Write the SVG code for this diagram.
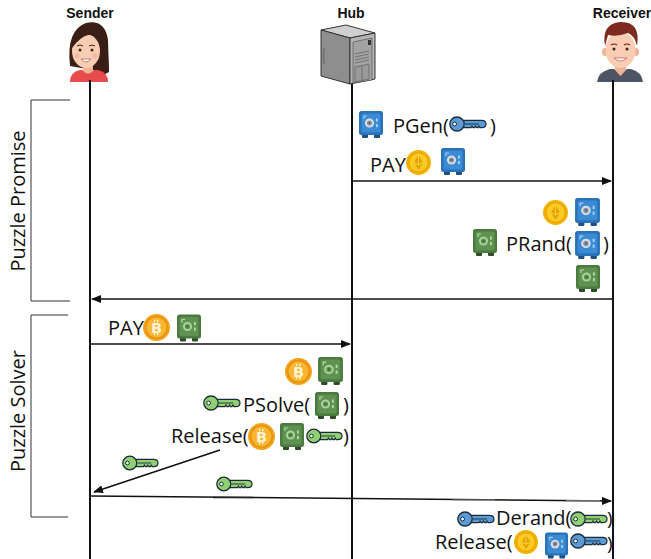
<svg xmlns="http://www.w3.org/2000/svg" xmlns:xlink="http://www.w3.org/1999/xlink" width="651" height="559" viewBox="0 0 651 559">
  <style>
    .title { font-family: "Liberation Sans", Arial, sans-serif; font-weight: bold; font-size: 14px; fill: #111; text-anchor: middle; }
    .lbl { font-family: "Open Sans", "Noto Sans", sans-serif; font-size: 20px; fill: #111; }
    .lbl-s { font-family: "Open Sans", "Noto Sans", sans-serif; font-size: 19px; fill: #111; }
    .phase { font-family: "Open Sans", "Noto Sans", sans-serif; font-size: 20px; fill: #111; text-anchor: middle; }
    .life { stroke: #111; stroke-width: 2; fill: none; }
    .msg { stroke: #111; stroke-width: 1.5; fill: none; marker-end: url(#arrow); }
    .bracket { stroke: #333; stroke-width: 1; fill: none; }
  </style>
  <defs>
    <marker id="arrow" markerUnits="userSpaceOnUse" markerWidth="10" markerHeight="8" refX="9" refY="4" orient="auto">
      <path d="M0,0 L10,4 L0,8 Z" fill="#111"/>
    </marker>
    <!-- lockbox icons -->
    <symbol id="safe-blue" viewBox="0 0 24 27">
      <rect x="3" y="22" width="6" height="5" rx="1" fill="#1f4f80"/>
      <rect x="15" y="22" width="6" height="5" rx="1" fill="#1f4f80"/>
      <rect x="0" y="0" width="24" height="24" rx="2.5" fill="#2a73b8"/>
      <rect x="2.5" y="2.5" width="19" height="19" rx="1.5" fill="#3b8ad4"/>
      <path d="M5,8 V5 H8" stroke="#a6d4f7" stroke-width="1.2" fill="none"/>
      <circle cx="10.5" cy="12" r="4.6" fill="#d9dde2"/>
      <circle cx="10.5" cy="12" r="2.6" fill="#8a949e"/>
      <circle cx="10.5" cy="12" r="1.1" fill="#56606a"/>
      <rect x="17" y="7.5" width="1.8" height="3.2" fill="#a6d4f7"/>
      <rect x="17" y="13" width="1.8" height="3.2" fill="#a6d4f7"/>
    </symbol>
    <symbol id="safe-green" viewBox="0 0 24 27">
      <rect x="3" y="22" width="6" height="5" rx="1" fill="#2e4a28"/>
      <rect x="15" y="22" width="6" height="5" rx="1" fill="#2e4a28"/>
      <rect x="0" y="0" width="24" height="24" rx="2.5" fill="#4a7a40"/>
      <rect x="2.5" y="2.5" width="19" height="19" rx="1.5" fill="#5e9152"/>
      <path d="M5,8 V5 H8" stroke="#b2dca4" stroke-width="1.2" fill="none"/>
      <circle cx="10.5" cy="12" r="4.6" fill="#a9d39a"/>
      <circle cx="10.5" cy="12" r="2.6" fill="#5e9152"/>
      <circle cx="10.5" cy="12" r="1.1" fill="#3b6234"/>
      <rect x="17" y="7.5" width="1.8" height="3.2" fill="#b2dca4"/>
      <rect x="17" y="13" width="1.8" height="3.2" fill="#b2dca4"/>
    </symbol>
    <!-- coins -->
    <symbol id="coin-eth" viewBox="0 0 24 24">
      <circle cx="12" cy="12" r="12" fill="#f2b200"/>
      <circle cx="12" cy="12" r="9.3" fill="#fcca22" stroke="#e3a000" stroke-width="1"/>
      <path d="M12,4.8 L16.3,12 L12,19.2 L7.7,12 Z" fill="#e3a200"/>
      <path d="M7.7,12 L12,14.3 L16.3,12 M12,4.8 V14.3" stroke="#ffdd55" stroke-width="0.8" fill="none"/>
    </symbol>
    <symbol id="coin-btc" viewBox="0 0 26 26">
      <circle cx="13" cy="13" r="13" fill="#f4a21c"/>
      <circle cx="13" cy="13" r="10.3" fill="#f8b632" stroke="#e08a08" stroke-width="1"/>
      <path d="M11.2,5.6 V8 M14.2,5.6 V8 M11.2,18 V20.4 M14.2,18 V20.4" stroke="#fff3d6" stroke-width="1.4"/>
      <text x="13" y="18.2" text-anchor="middle" font-family="DejaVu Sans, sans-serif" font-weight="bold" font-size="14" fill="#fff3d6">B</text>
    </symbol>
    <!-- keys -->
    <symbol id="key-blue" viewBox="0 0 38 16">
      <path d="M13,4.3 H32.5 Q37,4.3 37,8 Q37,11.7 32.5,11.7 H31 L30,10.2 L29,11.7 H27.5 L26.5,10.2 L25.5,11.7 H24 L23,10.2 L22,11.7 H13 Z" fill="#5b9bd5" stroke="#1d2a38" stroke-width="1.2"/>
      <ellipse cx="8" cy="8" rx="7.2" ry="7" fill="#5b9bd5" stroke="#1d2a38" stroke-width="1.3"/>
      <circle cx="5.6" cy="8" r="1.9" fill="#fff" stroke="#1d2a38" stroke-width="1"/>
      <path d="M16,8 H30" stroke="#1d2a38" stroke-width="0.9"/>
    </symbol>
    <symbol id="key-green" viewBox="0 0 38 16">
      <path d="M13,4.3 H32.5 Q37,4.3 37,8 Q37,11.7 32.5,11.7 H31 L30,10.2 L29,11.7 H27.5 L26.5,10.2 L25.5,11.7 H24 L23,10.2 L22,11.7 H13 Z" fill="#8fd072" stroke="#1d2a38" stroke-width="1.2"/>
      <ellipse cx="8" cy="8" rx="7.2" ry="7" fill="#8fd072" stroke="#1d2a38" stroke-width="1.3"/>
      <circle cx="5.6" cy="8" r="1.9" fill="#fff" stroke="#1d2a38" stroke-width="1"/>
      <path d="M16,8 H30" stroke="#1d2a38" stroke-width="0.9"/>
    </symbol>
  </defs>

  <rect width="651" height="559" fill="#fff"/>

  <!-- Sender -->
  <g id="sender">
    <text class="title" x="90" y="18">Sender</text>
    <path d="M70,66 Q66,30 86,23 Q105,19 108,40 L109,72 Q100,78 92,70 Z" fill="#3a1f16"/>
    <rect x="83" y="62" width="10" height="10" fill="#efb497"/>
    <ellipse cx="86" cy="51" rx="14" ry="17" fill="#f8cdb3"/>
    <path d="M72,48 Q71,28 89,27 Q104,28 104,46 Q98,34 88,35 Q80,37 72,48 Z" fill="#3a1f16"/>
    <path d="M99,36 Q106,44 102,68 L109,72 L107,40 Z" fill="#3a1f16"/>
    <path d="M77,46 Q80,44 83,46 M89,46 Q92,44 95,46" stroke="#3a1f16" stroke-width="1" fill="none"/>
    <circle cx="80" cy="50" r="1.5" fill="#3a2a22"/>
    <circle cx="92" cy="50" r="1.5" fill="#3a2a22"/>
    <circle cx="77" cy="56" r="2.5" fill="#f3a99a" opacity="0.6"/>
    <circle cx="95" cy="56" r="2.5" fill="#f3a99a" opacity="0.6"/>
    <path d="M81,59 Q86,65 91,59 Z" fill="#fff" stroke="#b5655a" stroke-width="0.8"/>
    <path d="M70,82 Q70,72 80,70 L98,70 Q108,72 108,82 Z" fill="#e84b4b"/>
    <path d="M82,70 Q88,77 94,70 Z" fill="#efb497"/>
  </g>

  <!-- Hub -->
  <g id="hub">
    <text class="title" x="351" y="18">Hub</text>
    <path d="M321,30 L346,25 L375,33 L350,38 Z" fill="#cfcfcf" stroke="#333" stroke-width="1"/>
    <path d="M321,30 L350,38 L350,84 L321,76 Z" fill="#8e8e8e" stroke="#333" stroke-width="1"/>
    <path d="M350,38 L375,33 L375,79 L350,84 Z" fill="#b5b5b5" stroke="#333" stroke-width="1"/>
    <path d="M324,48 Q323,56 324,64" stroke="#6e6e6e" stroke-width="1.5" fill="none"/>
    <path d="M353,42 L372,38 L372,80 L353,83 Z" fill="#a3a3a3" stroke="#555" stroke-width="0.7"/>
    <rect x="368" y="40" width="3" height="5" fill="#333"/>
    <path d="M355,54 L369,51 M355,57 L369,54 M355,60 L369,57 M355,63 L369,60" stroke="#666" stroke-width="0.8"/>
    <path d="M355,67 L369,64 L369,79 L355,82 Z M362,65.5 V80.5" stroke="#666" stroke-width="0.8" fill="#9a9a9a"/>
  </g>

  <!-- Receiver -->
  <g id="receiver">
    <text class="title" x="622" y="18">Receiver</text>
    <rect x="615" y="60" width="11" height="12" fill="#efb497"/>
    <ellipse cx="605" cy="52" rx="3" ry="4" fill="#efb497"/>
    <ellipse cx="636" cy="52" rx="3" ry="4" fill="#efb497"/>
    <ellipse cx="620.5" cy="50" rx="15" ry="18" fill="#f8cdb3"/>
    <path d="M605,46 Q601,24 620,22 Q641,21 637,46 Q635,36 628,33 Q617,37 608,35 Z" fill="#7d2b1f"/>
    <path d="M611,45 Q614,43 617,45 M624,45 Q627,43 630,45" stroke="#5a2418" stroke-width="1.2" fill="none"/>
    <circle cx="614" cy="49" r="1.5" fill="#3a2a22"/>
    <circle cx="627" cy="49" r="1.5" fill="#3a2a22"/>
    <path d="M614,58 Q620.5,64 627,58 Z" fill="#fff" stroke="#b5655a" stroke-width="0.8"/>
    <path d="M597,82 Q598,72 610,69 L631,69 Q642,72 643,82 Z" fill="#4b5563"/>
    <path d="M614,69 L620.5,76 L627,69 Z" fill="#efb497"/>
  </g>

  <!-- lifelines -->
  <g id="lifelines">
    <line class="life" x1="90" y1="80" x2="90" y2="559"/>
    <line class="life" x1="352" y1="84" x2="352" y2="559"/>
    <line class="life" x1="613" y1="80" x2="613" y2="559"/>
  </g>

  <!-- phase brackets -->
  <g id="phase-promise">
    <path class="bracket" d="M70,100 H31 V301 H70"/>
    <text class="phase" transform="translate(25,201) rotate(-90)">Puzzle Promise</text>
  </g>
  <g id="phase-solver">
    <path class="bracket" d="M68,315 H31 V517 H68" stroke="#555"/>
    <text class="phase" transform="translate(25,411) rotate(-90)">Puzzle Solver</text>
  </g>

  <!-- messages -->
  <g id="connectors">
    <path class="msg" d="M352,181 H611"/>
    <path class="msg" d="M613,299 H92"/>
    <path class="msg" d="M90,344 H350"/>
    <path class="msg" d="M220,450 L94,492"/>
    <path class="msg" d="M90,496 L611,501"/>
    <path d="M213,497.6 H253" stroke="#222" stroke-width="1.5"/>
    <path d="M452,500 H495" stroke="#888" stroke-width="1.2"/>
    <path d="M566,500.8 H600" stroke="#888" stroke-width="1.2"/>
  </g>

  <!-- hub: PGen -->
  <g id="step-pgen">
    <use href="#safe-blue" x="359" y="111" width="24" height="27"/>
    <text class="lbl" x="393" y="133">PGen(</text>
    <use href="#key-blue" x="449" y="116" width="38" height="16"/>
    <text class="lbl" x="490" y="133">)</text>
  </g>
  <g id="step-pay-receiver">
    <text class="lbl" x="370" y="172">PAY</text>
    <use href="#coin-eth" x="406" y="150" width="25" height="25"/>
    <use href="#safe-blue" x="441" y="148" width="24" height="27"/>
  </g>

  <!-- receiver: PRand -->
  <g id="step-prand">
    <use href="#coin-eth" x="543" y="200" width="25" height="25"/>
    <use href="#safe-blue" x="575" y="198" width="25" height="28"/>
    <use href="#safe-green" x="473" y="229" width="24" height="27"/>
    <text class="lbl" x="506" y="251">PRand(</text>
    <use href="#safe-blue" x="575" y="231" width="25" height="28"/>
    <text class="lbl" x="603" y="251">)</text>
    <use href="#safe-green" x="576" y="265" width="24" height="27"/>
  </g>

  <!-- sender: PAY -->
  <g id="step-pay-hub">
    <text class="lbl" x="108" y="335">PAY</text>
    <use href="#coin-btc" x="143" y="314" width="27" height="27"/>
    <use href="#safe-green" x="177" y="314" width="24" height="28"/>
  </g>

  <!-- hub: PSolve and Release -->
  <g id="step-psolve">
    <use href="#coin-btc" x="285" y="358" width="27" height="27"/>
    <use href="#safe-green" x="318" y="357" width="25" height="28"/>
    <use href="#key-green" x="203" y="395" width="38" height="16"/>
    <text class="lbl" x="243" y="412">PSolve(</text>
    <use href="#safe-green" x="315" y="392" width="24" height="27"/>
    <text class="lbl" x="343" y="412">)</text>
  </g>
  <g id="step-release-hub">
    <text class="lbl" x="171" y="443">Release(</text>
    <use href="#coin-btc" x="248" y="423" width="27" height="27"/>
    <use href="#safe-green" x="280" y="423" width="24" height="27"/>
    <use href="#key-green" x="306" y="428" width="37" height="16"/>
    <text class="lbl" x="343" y="443">)</text>
  </g>

  <!-- keys in transit -->
  <g id="key-to-sender">
    <use href="#key-green" x="122" y="455" width="37" height="16"/>
  </g>
  <g id="key-to-receiver">
    <use href="#key-green" x="216" y="476" width="37" height="16"/>
  </g>

  <!-- receiver: Derand and Release -->
  <g id="step-derand">
    <use href="#key-blue" x="457" y="511" width="38" height="16"/>
    <text class="lbl" x="496" y="525">Derand(</text>
    <use href="#key-green" x="570" y="511" width="38" height="16"/>
    <text class="lbl-s" x="607" y="525">)</text>
  </g>
  <g id="step-release-receiver">
    <text class="lbl" x="435" y="549">Release(</text>
    <use href="#coin-eth" x="514" y="530" width="24" height="24"/>
    <use href="#safe-blue" x="545" y="532" width="23" height="27"/>
    <use href="#key-blue" x="570" y="533" width="38" height="16"/>
    <text class="lbl-s" x="607" y="550">)</text>
  </g>
</svg>
